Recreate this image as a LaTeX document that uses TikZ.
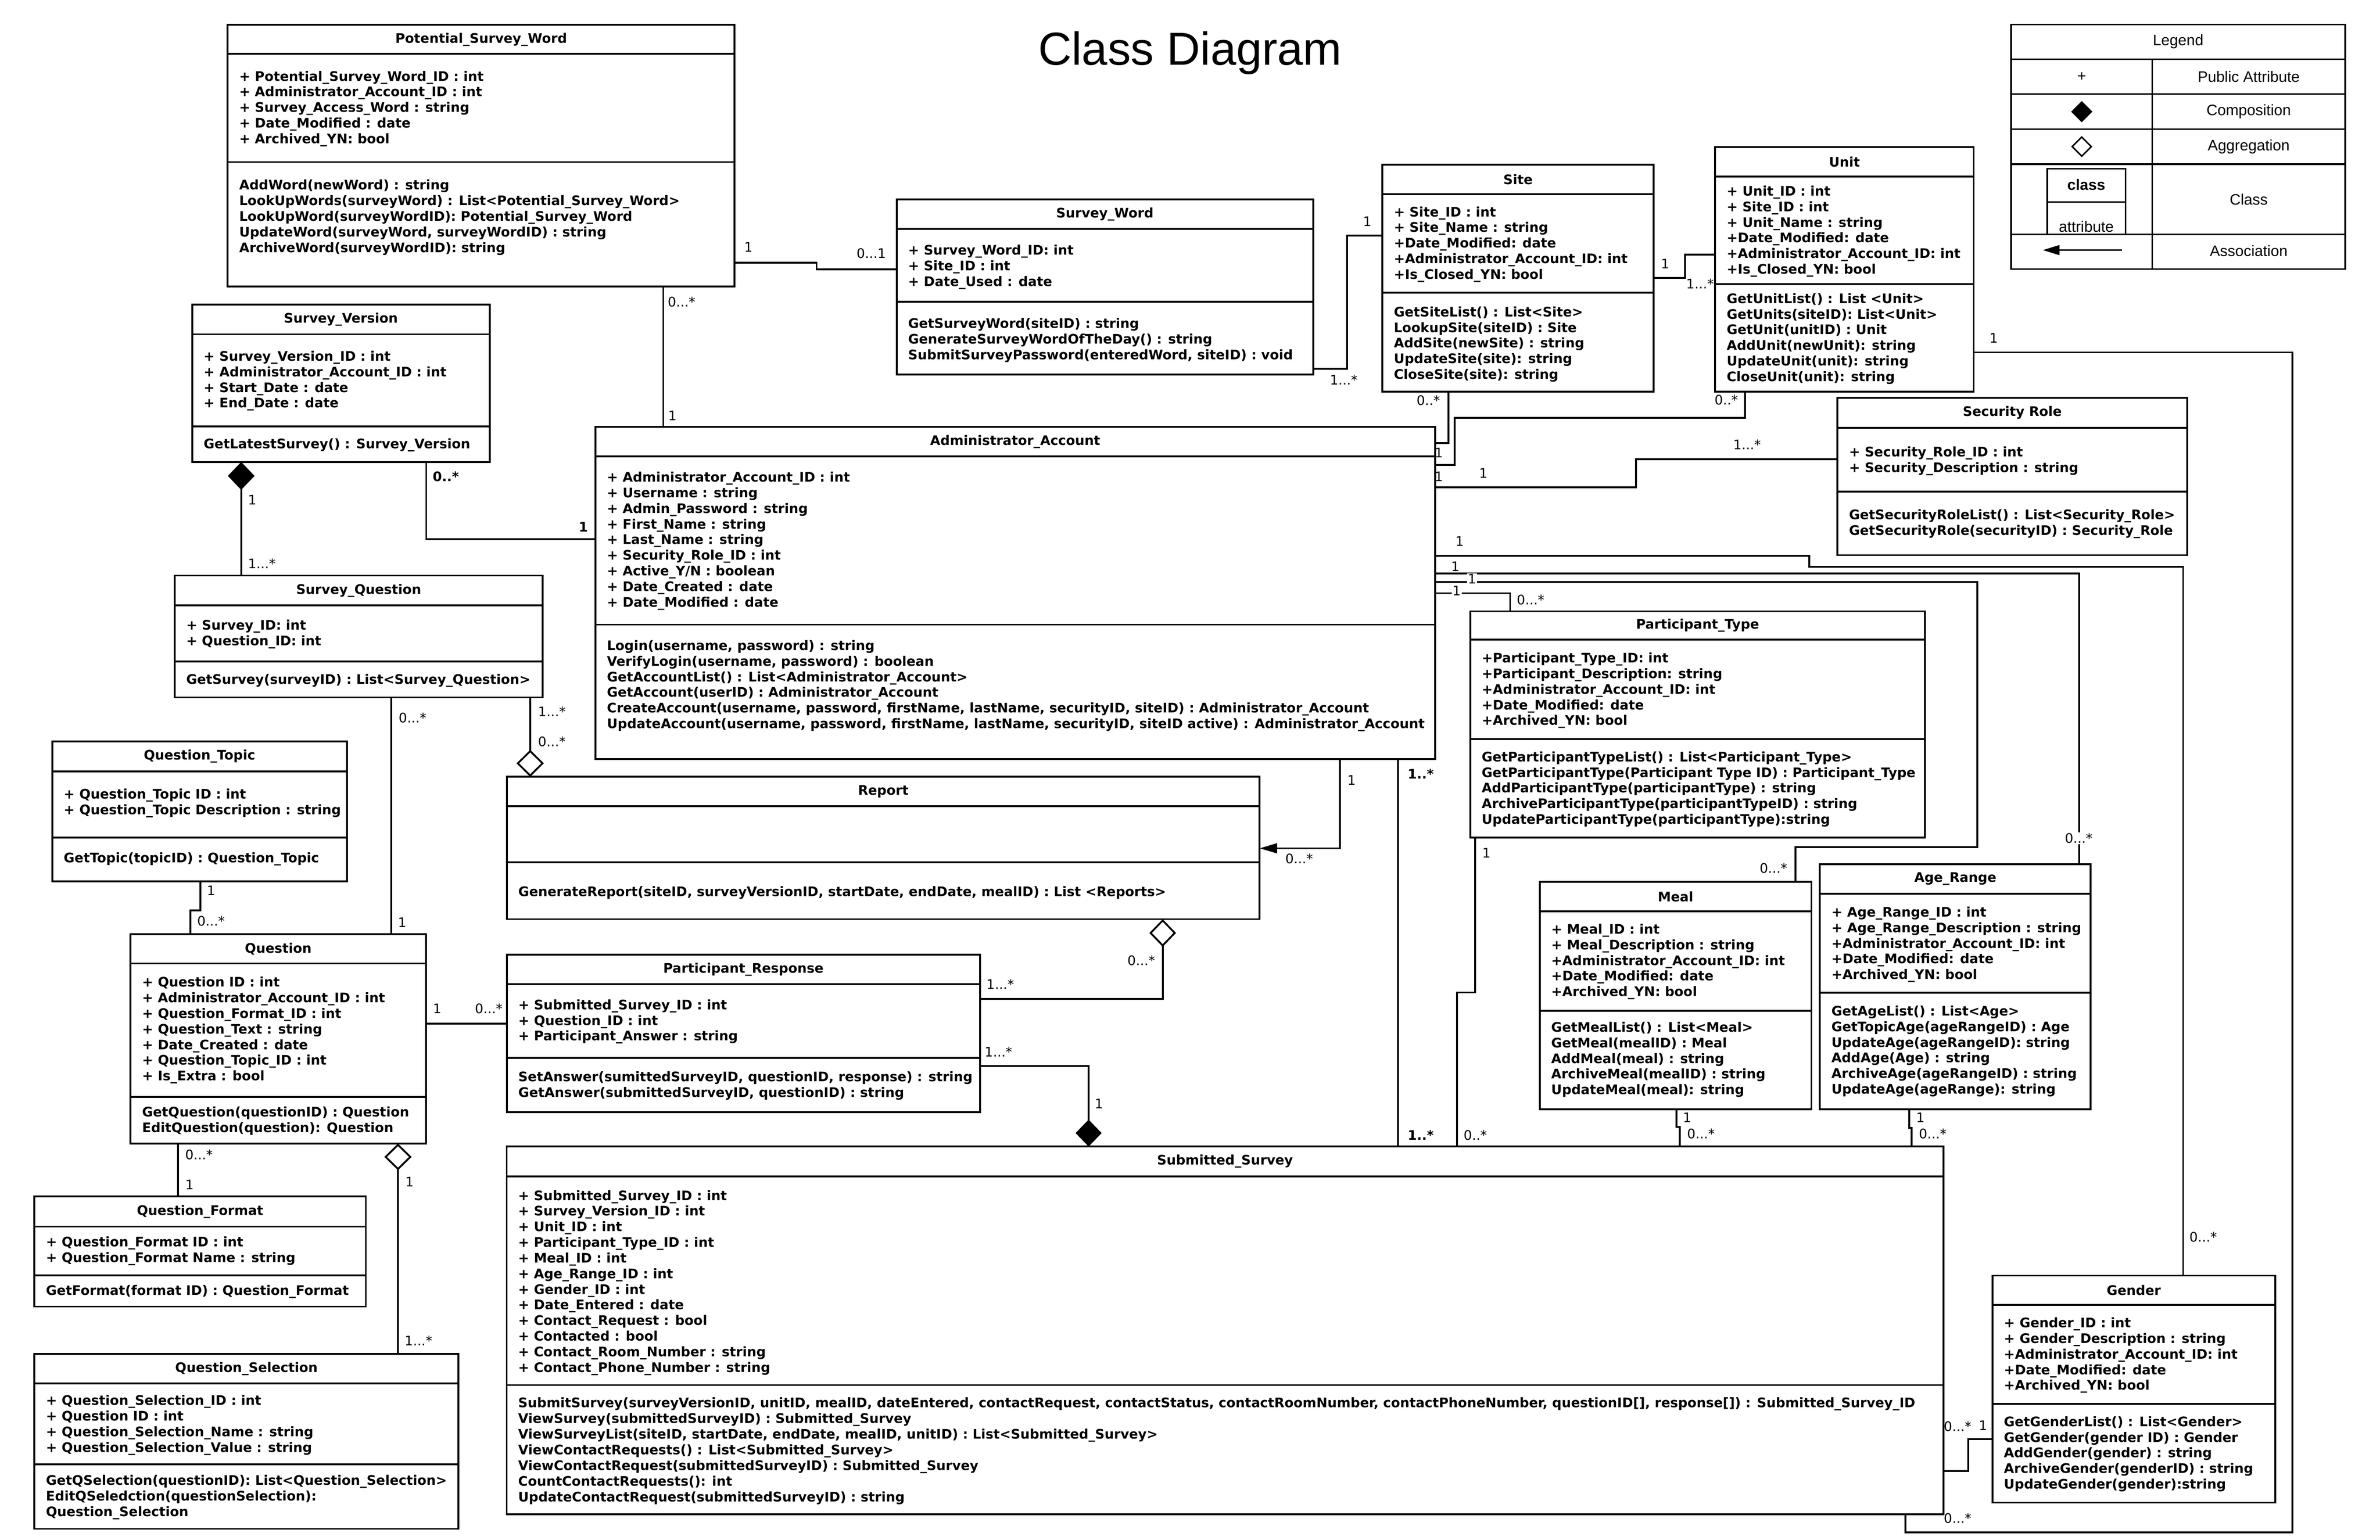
\documentclass[tikz,border=0pt]{standalone}
\usepackage{fontspec}
\setmainfont{DejaVu Sans}
\newfontfamily\lgfont{Liberation Sans}
\usetikzlibrary{arrows.meta,shapes.geometric}
\tikzset{
 cbox/.style={draw, line width=1.2pt, anchor=north west, inner sep=0pt, outer sep=0pt},
 cline/.style={line width=1.2pt},
 ctitle/.style={font=\fontsize{8.7}{10.3}\selectfont\bfseries, inner sep=0pt},
 ctext/.style={anchor=north west, align=left, inner sep=0pt, font=\fontsize{8.7}{10.3}\selectfont\bfseries},
 conn/.style={line width=1.2pt},
 lbl/.style={font=\fontsize{8.7}{10}\selectfont, inner sep=0.6pt},
 lblw/.style={lbl, fill=white},
 lblb/.style={lbl, font=\fontsize{8.7}{10}\selectfont\bfseries},
 lgtext/.style={font=\lgfont\fontsize{10}{12}\selectfont, inner sep=0pt},
 lgline/.style={line width=1.1pt},
}
\newcommand{\umlclass}[8]{%
  \node[cbox, minimum width={#4-#2}, minimum height={#7-#3}] (#1) at (#2,#3) {};
  \draw[cline] (#2,#5) -- (#4,#5);
  \draw[cline] (#2,#6) -- (#4,#6);
  \node[ctitle] (#1-t) at ({(#2+#4)/2},{(#3+#5)/2}) {#8};
}
\newcommand{\umltext}[4]{\node[ctext] (#1) at ({#2+7.4},{#3-3.5}) {#4};}
\begin{document}
\begin{tikzpicture}[x=1pt,y=-1pt]
\fill[white] (0,0) rectangle (1568,1014.6);
\useasboundingbox (0,0) rectangle (1568,1014.6);

\node[font=\lgfont\fontsize{30.5}{36}\selectfont, inner sep=0pt] (title) at (784,35) {Class Diagram};

% ---------------- classes ----------------
\umlclass{psw}{150}{16.4}{484}{35.5}{106.8}{188.8}{Potential\_Survey\_Word}
\umltext{psw-a}{150}{50}{+ Potential\_Survey\_Word\_ID : int\\+ Administrator\_Account\_ID : int\\+ Survey\_Access\_Word : string\\+ Date\_Modified : date\\+ Archived\_YN: bool}
\umltext{psw-m}{150}{121.8}{AddWord(newWord) : string\\LookUpWords(surveyWord) : List<Potential\_Survey\_Word>\\LookUpWord(surveyWordID): Potential\_Survey\_Word\\UpdateWord(surveyWord, surveyWordID) : string\\ArchiveWord(surveyWordID): string}

\umlclass{sw}{590.7}{131.3}{865.1}{150.9}{198.7}{246.7}{Survey\_Word}
\umltext{sw-a}{590.7}{164.7}{+ Survey\_Word\_ID: int\\+ Site\_ID : int\\+ Date\_Used : date}
\umltext{sw-m}{590.7}{213}{GetSurveyWord(siteID) : string\\GenerateSurveyWordOfTheDay() : string\\SubmitSurveyPassword(enteredWord, siteID) : void}

\umlclass{site}{910.7}{108.5}{1089.5}{127.9}{192.9}{258}{Site}
\umltext{site-a}{910.7}{139.4}{+ Site\_ID : int\\+ Site\_Name : string\\+Date\_Modified: date\\+Administrator\_Account\_ID: int\\+Is\_Closed\_YN: bool}
\umltext{site-m}{910.7}{205.3}{GetSiteList() : List<Site>\\LookupSite(siteID) : Site\\AddSite(newSite) : string\\UpdateSite(site): string\\CloseSite(site): string}

\umlclass{unit}{1130}{96.8}{1300.3}{116.4}{187.3}{258}{Unit}
\umltext{unit-a}{1130}{125.7}{+ Unit\_ID : int\\+ Site\_ID : int\\+ Unit\_Name : string\\+Date\_Modified: date\\+Administrator\_Account\_ID: int\\+Is\_Closed\_YN: bool}
\umltext{unit-m}{1130}{196.5}{GetUnitList() : List <Unit>\\GetUnits(siteID): List<Unit>\\GetUnit(unitID) : Unit\\AddUnit(newUnit): string\\UpdateUnit(unit): string\\CloseUnit(unit): string}

\umlclass{admin}{392.3}{281.4}{945.4}{300.7}{411.6}{500.2}{Administrator\_Account}
\umltext{admin-a}{392.3}{314.2}{+ Administrator\_Account\_ID : int\\+ Username : string\\+ Admin\_Password : string\\+ First\_Name : string\\+ Last\_Name : string\\+ Security\_Role\_ID : int\\+ Active\_Y/N : boolean\\+ Date\_Created : date\\+ Date\_Modified : date}
\umltext{admin-m}{392.3}{425.2}{Login(username, password) : string\\VerifyLogin(username, password) : boolean\\GetAccountList() : List<Administrator\_Account>\\GetAccount(userID) : Administrator\_Account\\CreateAccount(username, password, firstName, lastName, securityID, siteID) : Administrator\_Account\\UpdateAccount(username, password, firstName, lastName, securityID, siteID active) : Administrator\_Account}

\umlclass{secrole}{1210.6}{262.2}{1440.9}{281.8}{324}{365.8}{Security Role}
\umltext{secrole-a}{1210.6}{297.5}{+ Security\_Role\_ID : int\\+ Security\_Description : string}
\umltext{secrole-m}{1210.6}{339.1}{GetSecurityRoleList() : List<Security\_Role>\\GetSecurityRole(securityID) : Security\_Role}

\umlclass{ptype}{968.6}{402.8}{1268.2}{421.6}{487.1}{552}{Participant\_Type}
\umltext{ptype-a}{968.6}{433.4}{+Participant\_Type\_ID: int\\+Participant\_Description: string\\+Administrator\_Account\_ID: int\\+Date\_Modified: date\\+Archived\_YN: bool}
\umltext{ptype-m}{968.6}{498.5}{GetParticipantTypeList() : List<Participant\_Type>\\GetParticipantType(Participant Type ID) : Participant\_Type\\AddParticipantType(participantType) : string\\ArchiveParticipantType(participantTypeID) : string\\UpdateParticipantType(participantType):string}

\umlclass{meal}{1014.4}{581}{1193.4}{600.6}{666}{730.9}{Meal}
\umltext{meal-a}{1014.4}{612.1}{+ Meal\_ID : int\\+ Meal\_Description : string\\+Administrator\_Account\_ID: int\\+Date\_Modified: date\\+Archived\_YN: bool}
\umltext{meal-m}{1014.4}{676.7}{GetMealList() : List<Meal>\\GetMeal(mealID) : Meal\\AddMeal(meal) : string\\ArchiveMeal(mealID) : string\\UpdateMeal(meal): string}

\umlclass{agerange}{1199}{569.5}{1377.4}{588.9}{654.2}{730.9}{Age\_Range}
\umltext{agerange-a}{1199}{600.8}{+ Age\_Range\_ID : int\\+ Age\_Range\_Description : string\\+Administrator\_Account\_ID: int\\+Date\_Modified: date\\+Archived\_YN: bool}
\umltext{agerange-m}{1199}{666}{GetAgeList() : List<Age>\\GetTopicAge(ageRangeID) : Age\\UpdateAge(ageRangeID): string\\AddAge(Age) : string\\ArchiveAge(ageRangeID) : string\\UpdateAge(ageRange): string}

\umlclass{gender}{1312.6}{840.6}{1498.9}{859.9}{925.1}{990.2}{Gender}
\umltext{gender-a}{1312.6}{871.5}{+ Gender\_ID : int\\+ Gender\_Description : string\\+Administrator\_Account\_ID: int\\+Date\_Modified: date\\+Archived\_YN: bool}
\umltext{gender-m}{1312.6}{936.6}{GetGenderList() : List<Gender>\\GetGender(gender ID) : Gender\\AddGender(gender) : string\\ArchiveGender(genderID) : string\\UpdateGender(gender):string}

\umlclass{ss}{333.8}{755.5}{1280.3}{775.3}{912.7}{997.8}{Submitted\_Survey}
\umltext{ss-a}{333.8}{787.6}{+ Submitted\_Survey\_ID : int\\+ Survey\_Version\_ID : int\\+ Unit\_ID : int\\+ Participant\_Type\_ID : int\\+ Meal\_ID : int\\+ Age\_Range\_ID : int\\+ Gender\_ID : int\\+ Date\_Entered : date\\+ Contact\_Request : bool\\+ Contacted : bool\\+ Contact\_Room\_Number : string\\+ Contact\_Phone\_Number : string}
\umltext{ss-m}{333.8}{924.3}{SubmitSurvey(surveyVersionID, unitID, mealID, dateEntered, contactRequest, contactStatus, contactRoomNumber, contactPhoneNumber, questionID[], response[]) : Submitted\_Survey\_ID\\ViewSurvey(submittedSurveyID) : Submitted\_Survey\\ViewSurveyList(siteID, startDate, endDate, mealID, unitID) : List<Submitted\_Survey>\\ViewContactRequests() : List<Submitted\_Survey>\\ViewContactRequest(submittedSurveyID) : Submitted\_Survey\\CountContactRequests(): int\\UpdateContactRequest(submittedSurveyID) : string}

\umlclass{report}{333.9}{511.9}{829.9}{531.3}{568.3}{605.7}{Report}
\umltext{report-m}{333.9}{587.2}{GenerateReport(siteID, surveyVersionID, startDate, endDate, mealID) : List <Reports>}

\umlclass{presp}{333.9}{629}{645.6}{648.5}{697}{732.8}{Participant\_Response}
\umltext{presp-a}{333.9}{661.9}{+ Submitted\_Survey\_ID : int\\+ Question\_ID : int\\+ Participant\_Answer : string}
\umltext{presp-m}{333.9}{709.3}{SetAnswer(sumittedSurveyID, questionID, response) : string\\GetAnswer(submittedSurveyID, questionID) : string}

\umlclass{sv}{126.6}{200.6}{322.6}{220.3}{280.9}{304.4}{Survey\_Version}
\umltext{sv-a}{126.6}{234.5}{+ Survey\_Version\_ID : int\\+ Administrator\_Account\_ID : int\\+ Start\_Date : date\\+ End\_Date : date}
\umltext{sv-m}{126.6}{292.4}{GetLatestSurvey() : Survey\_Version}

\umlclass{sq}{115.1}{379.3}{357.5}{399}{435.9}{459.6}{Survey\_Question}
\umltext{sq-a}{115.1}{411.7}{+ Survey\_ID: int\\+ Question\_ID: int}
\umltext{sq-m}{115.1}{447.4}{GetSurvey(surveyID) : List<Survey\_Question>}

\umlclass{qtopic}{34.4}{488.7}{228.5}{508.3}{551.9}{580.7}{Question\_Topic}
\umltext{qtopic-a}{34.4}{523.1}{+ Question\_Topic ID : int\\+ Question\_Topic Description : string}
\umltext{qtopic-m}{34.4}{565.1}{GetTopic(topicID) : Question\_Topic}

\umlclass{question}{86.05}{615.7}{280.6}{634.9}{722.8}{753.6}{Question}
\umltext{question-a}{86.05}{647}{+ Question ID : int\\+ Administrator\_Account\_ID : int\\+ Question\_Format\_ID : int\\+ Question\_Text : string\\+ Date\_Created : date\\+ Question\_Topic\_ID : int\\+ Is\_Extra : bool}
\umltext{question-m}{86.05}{732.5}{GetQuestion(questionID) : Question\\EditQuestion(question): Question}

\umlclass{qformat}{22.7}{788.5}{241}{808.3}{840.4}{861}{Question\_Format}
\umltext{qformat-a}{22.7}{818.1}{+ Question\_Format ID : int\\+ Question\_Format Name : string}
\umltext{qformat-m}{22.7}{850.2}{GetFormat(format ID) : Question\_Format}

\umlclass{qsel}{22.7}{892.3}{302.1}{911.6}{965}{1007.4}{Question\_Selection}
\umltext{qsel-a}{22.7}{922.6}{+ Question\_Selection\_ID : int\\+ Question ID : int\\+ Question\_Selection\_Name : string\\+ Question\_Selection\_Value : string}
\umltext{qsel-m}{22.7}{975.3}{GetQSelection(questionID): List<Question\_Selection>\\EditQSeledction(questionSelection):\\Question\_Selection}

% ---------------- connectors ----------------
\draw[conn] (psw.east |- 0,173) -- (538,173) -- (538,177.5) -- (sw.west |- 0,177.5);
\draw[conn] (sw.east |- 0,243) -- (887.6,243) -- (887.6,155.3) -- (site.west |- 0,155.3);
\draw[conn] (site.east |- 0,183.1) -- (1110.2,183.1) -- (1110.2,167.8) -- (unit.west |- 0,167.8);
\draw[conn] (unit.east |- 0,232.2) -- (1510.3,232.2) -- (1510.3,1009.8) -- (1255.4,1009.8) -- (ss.south -| 1255.4,0);
\draw[conn] (psw.south -| 437,0) -- (admin.north -| 437,0);
\draw[conn] (site.south -| 954.2,0) -- (954.2,292) -- (admin.east |- 0,292);
\draw[conn] (unit.south -| 1149.6,0) -- (1149.6,275.3) -- (958.3,275.3) -- (958.3,306.5) -- (admin.east |- 0,306.5);
\draw[conn] (admin.east |- 0,321.1) -- (1077.7,321.1) -- (1077.7,302.6) -- (secrole.west |- 0,302.6);
\draw[conn] (admin.east |- 0,366.3) -- (1192,366.3) -- (1192,373.6) -- (1438.3,373.6) -- (gender.north -| 1438.3,0);
\draw[conn] (admin.east |- 0,378) -- (1369.8,378) -- (agerange.north -| 1369.8,0);
\draw[conn] (admin.east |- 0,383.6) -- (1302.7,383.6) -- (1302.7,558.3) -- (1182.8,558.3) -- (meal.north -| 1182.8,0);
\draw[conn] (admin.east |- 0,390.9) -- (994.9,390.9) -- (ptype.north -| 994.9,0);
\draw[conn] (ptype.south -| 971.8,0) -- (971.8,654) -- (960,654) -- (ss.north -| 960,0);
\draw[conn] (admin.south -| 921,0) -- (ss.north -| 921,0);
\draw[conn, -{Triangle[length=11.5pt,width=6.5pt]}] (admin.south -| 882.7,0) -- (882.7,559) -- (report.east |- 0,559);
\draw[conn, {Diamond[open,length=18.2pt,width=17.6pt]}-] (report.south -| 766,0) -- (766,658.2) -- (presp.east |- 0,658.2);
\draw[conn, -{Diamond[length=17.7pt,width=17.2pt]}] (presp.east |- 0,702.4) -- (717.2,702.4) -- (ss.north -| 717.2,0);
\draw[conn] (meal.south -| 1104.6,0) -- (1104.6,742.6) -- (1106.6,742.6) -- (ss.north -| 1106.6,0);
\draw[conn] (agerange.south -| 1257.8,0) -- (1257.8,743.2) -- (1259.5,743.2) -- (ss.north -| 1259.5,0);
\draw[conn] (gender.west |- 0,948.3) -- (1296.6,948.3) -- (1296.6,969.2) -- (ss.east |- 0,969.2);
\draw[conn, {Diamond[length=18.4pt,width=17.6pt]}-] (sv.south -| 158.9,0) -- (sq.north -| 158.9,0);
\draw[conn] (sv.south -| 280.8,0) -- (280.8,355.3) -- (admin.west |- 0,355.3);
\draw[conn] (sq.south -| 257.9,0) -- (question.north -| 257.9,0);
\draw[conn, -{Diamond[open,length=17.8pt,width=18pt]}] (sq.south -| 349.3,0) -- (report.north -| 349.3,0);
\draw[conn] (qtopic.south -| 132.1,0) -- (132.1,600) -- (125.5,600) -- (question.north -| 125.5,0);
\draw[conn] (question.east |- 0,674.5) -- (presp.west |- 0,674.5);
\draw[conn] (question.south -| 117.4,0) -- (qformat.north -| 117.4,0);
\draw[conn, {Diamond[open,length=17.5pt,width=18pt]}-] (question.south -| 262.2,0) -- (qsel.north -| 262.2,0);

% ---------------- multiplicities ----------------
\node[lbl] (m1) at (493,163) {1};
\node[lbl] (m2) at (574,167) {0...1};
\node[lbl] (m3) at (900.8,146) {1};
\node[lbl] (m4) at (885.3,250.3) {1...*};
\node[lbl] (m5) at (1097,174) {1};
\node[lbl] (m6) at (1120,187) {1...*};
\node[lbl] (m7) at (1313.5,222.9) {1};
\node[lbl] (m8) at (1289.7,1000.5) {0...*};
\node[lbl] (m9) at (449,199) {0...*};
\node[lbl] (m10) at (443,274) {1};
\node[lbl] (m11) at (941,264) {0..*};
\node[lbl] (m12) at (947.9,298.5) {1};
\node[lbl] (m13) at (1137.3,263.4) {0..*};
\node[lbl] (m14) at (947.9,313.9) {1};
\node[lbl] (m15) at (977.2,311.7) {1};
\node[lbl] (m16) at (1151,293) {1...*};
\node[lbl] (m17) at (961.6,356.7) {1};
\node[lbl] (m18) at (1451.5,815.2) {0...*};
\node[lbl] (m19) at (958.8,373.2) {1};
\node[lblw] (m20) at (1369.5,552.4) {0...*};
\node[lblw] (m21) at (969.8,381.5) {1};
\node[lbl] (m22) at (1168.4,572) {0...*};
\node[lblw] (m23) at (959.7,389.2) {1};
\node[lbl] (m24) at (1008.4,395.2) {0...*};
\node[lbl] (m25) at (979.3,562) {1};
\node[lbl] (m26) at (972,748) {0..*};
\node[lblb] (m27) at (936,510) {1..*};
\node[lblb] (m28) at (936,748) {1..*};
\node[lbl] (m29) at (890.4,514) {1};
\node[lbl] (m30) at (855.9,566) {0...*};
\node[lbl] (m31) at (751.9,633.1) {0...*};
\node[lbl] (m32) at (659,648.5) {1...*};
\node[lbl] (m33) at (657.8,693.1) {1...*};
\node[lbl] (m34) at (724,727.5) {1};
\node[lbl] (m35) at (1111.5,736.4) {1};
\node[lbl] (m36) at (1120.6,747) {0...*};
\node[lbl] (m37) at (1265.2,736.4) {1};
\node[lbl] (m38) at (1273.3,747) {0...*};
\node[lbl] (m39) at (1289.7,940) {0...*};
\node[lbl] (m40) at (1306.4,939.4) {1};
\node[lbl] (m41) at (166.2,329.3) {1};
\node[lbl] (m42) at (172.5,371.4) {1...*};
\node[lblb] (m43) at (293.7,314) {0..*};
\node[lblb] (m44) at (384.3,347.2) {1};
\node[lbl] (m45) at (271.8,472.9) {0...*};
\node[lbl] (m46) at (265,608) {1};
\node[lbl] (m47) at (363.6,469) {1...*};
\node[lbl] (m48) at (363.6,488.7) {0...*};
\node[lbl] (m49) at (139.1,586.8) {1};
\node[lbl] (m50) at (139,607) {0...*};
\node[lbl] (m51) at (288,664.5) {1};
\node[lbl] (m52) at (322,664.5) {0...*};
\node[lbl] (m53) at (131.1,760.8) {0...*};
\node[lbl] (m54) at (124.9,780.8) {1};
\node[lbl] (m55) at (269.8,778.8) {1};
\node[lbl] (m56) at (275.7,883.6) {1...*};

% ---------------- legend ----------------
\node[draw, line width=1.1pt, anchor=north west, inner sep=0pt, outer sep=0pt, minimum width=220.1, minimum height=161.2] (legend) at (1325,16.1) {};
\draw[lgline] (1325,39) -- (1545.1,39);
\draw[lgline] (1325,62) -- (1545.1,62);
\draw[lgline] (1325,85.1) -- (1545.1,85.1);
\draw[lgline] (1325,108.2) -- (1545.1,108.2);
\draw[lgline] (1325,154.5) -- (1545.1,154.5);
\draw[lgline] (1417.9,39) -- (1417.9,177.3);
\node[lgtext] (lg-title) at (1435,27.5) {Legend};
\node[lgtext] (lg-plus) at (1371.5,50.5) {+};
\node[lgtext] (lg-pub) at (1481.5,50.5) {Public Attribute};
\node[diamond, aspect=1, draw, fill=black, line width=1pt, minimum width=13, minimum height=13, inner sep=0pt] (lg-comp-sym) at (1371.5,73.6) {};
\node[lgtext] (lg-comp) at (1481.5,73.6) {Composition};
\node[diamond, aspect=1, draw, fill=white, line width=1pt, minimum width=13, minimum height=13, inner sep=0pt] (lg-agg-sym) at (1371.5,96.6) {};
\node[lgtext] (lg-agg) at (1481.5,96.6) {Aggregation};
\draw[lgline] (1348.8,154.5) -- (1348.8,111.1) -- (1400.3,111.1) -- (1400.3,154.5);
\draw[lgline] (1348.8,133.1) -- (1400.3,133.1);
\node[lgtext, font=\lgfont\bfseries\fontsize{10}{12}\selectfont] (lg-cls) at (1374.5,121.8) {class};
\node[lgtext] (lg-attr) at (1374.5,149.3) {attribute};
\node[lgtext] (lg-class) at (1481.5,131.3) {Class};
\coordinate (lg-a1) at (1398,164.8);
\coordinate (lg-a2) at (1345.8,164.8);
\draw[lgline, -{Triangle[length=11pt,width=6.4pt]}] (lg-a1) -- (lg-a2);
\node[lgtext] (lg-assoc) at (1481.5,165.3) {Association};
\end{tikzpicture}
\end{document}
